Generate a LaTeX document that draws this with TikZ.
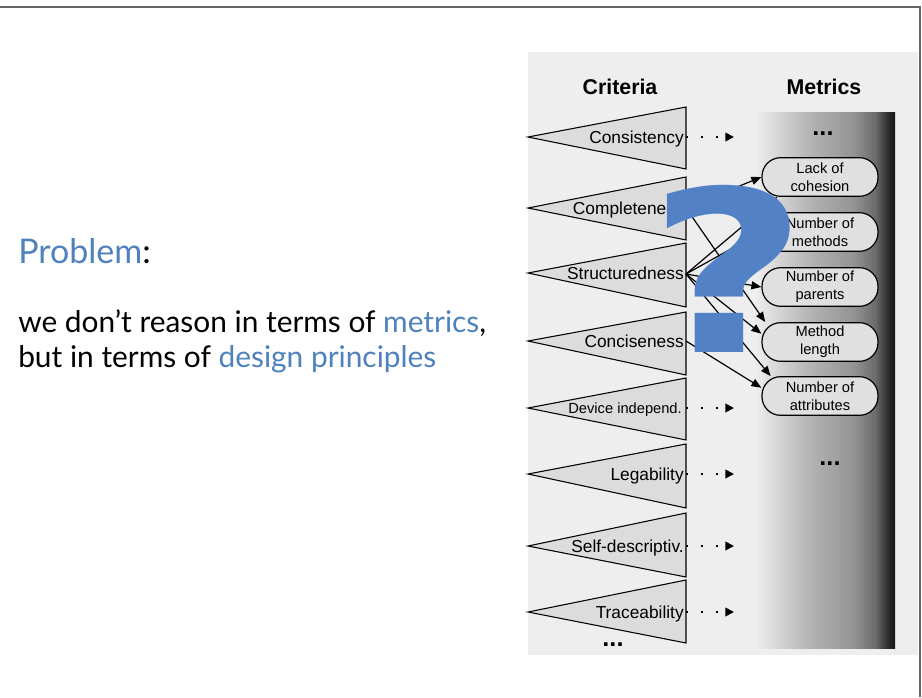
\documentclass[tikz,border=0pt]{standalone}
\usepackage{fontspec}
\setmainfont{Liberation Sans}
\newfontfamily\slidefont{Lato}
\newfontfamily\qfont{DejaVu Sans}
\usetikzlibrary{arrows.meta}
\definecolor{slideblue}{HTML}{4F81BD}
\definecolor{qblue}{HTML}{5282C5}
\definecolor{panelbg}{HTML}{EEEEEE}
\definecolor{trifill}{HTML}{DCDCDC}
\definecolor{boxfill}{HTML}{E0E0E0}
\definecolor{framegray}{HTML}{666666}
\colorlet{shA}{black!16}
\colorlet{shB}{black!30}
\colorlet{shC}{black!42}
\colorlet{shD}{black!58}
\colorlet{shE}{black!80}
\colorlet{shF}{black!92}
\pgfdeclarehorizontalshading{metricshade}{100bp}{color(0bp)=(panelbg); color(25bp)=(panelbg); color(33bp)=(shA); color(45bp)=(shB); color(60bp)=(shC); color(68bp)=(shD); color(72bp)=(shE); color(75bp)=(shF); color(100bp)=(shF)}
\tikzset{
  tri/.style={draw=black, line width=0.8pt, fill=trifill, line join=miter},
  clabel/.style={font=\fontsize{13}{15}\selectfont, inner sep=0pt, anchor=base east},
  mbox/.style={draw=black, line width=0.9pt, fill=boxfill, rounded corners=14pt,
    minimum width=87pt, minimum height=29pt, inner sep=0pt, align=center,
    font=\fontsize{11}{13.5}\selectfont},
  dotarrow/.style={draw=black, line width=1.3pt, dash pattern=on 1.3pt off 10pt,
    -{Triangle[length=6.5pt,width=6.5pt]}},
  conn/.style={draw=black, line width=0.9pt, -{Triangle[length=7.5pt,width=6pt]}},
  dotsnode/.style={font=\bfseries\fontsize{19}{19}\selectfont, inner sep=0pt},
  head/.style={font=\bfseries\fontsize{16}{18}\selectfont, inner sep=0pt},
  slidetext/.style={font=\slidefont\fontsize{22.4}{26}\selectfont, inner sep=0pt, anchor=base west},
  qmark/.style={font=\qfont\bfseries\fontsize{169}{169}\selectfont, text=qblue, inner sep=0pt, anchor=base}
}
\begin{document}
\begin{tikzpicture}[x=0.75pt, y=-0.75pt]
\useasboundingbox (0,0) rectangle (922,697);
\fill[white] (0,0) rectangle (922,697);
% slide frame
\draw[framegray, line width=1.1pt] (0,7) -- (920,7) -- (920,697);
% scanned panel
\fill[panelbg] (528,52) rectangle (918,655);
% metrics gradient
\fill[shading=metricshade] (755,112) rectangle (895,648);
% headings
\node[head] (hcrit) at (620,87) {Criteria};
\node[head] (hmet) at (824,87) {Metrics};
% triangles
\draw[tri] (528,137) -- (686,107) -- (686,169) -- cycle;
\draw[tri] (528,208) -- (686,177) -- (686,240) -- cycle;
\draw[tri] (528,273) -- (686,243) -- (686,307) -- cycle;
\draw[tri] (528,341) -- (686,312) -- (686,375) -- cycle;
\draw[tri] (528,408) -- (686,378) -- (686,440) -- cycle;
\draw[tri] (528,474) -- (686,444) -- (686,508) -- cycle;
\draw[tri] (528,546) -- (686,513) -- (686,577) -- cycle;
\draw[tri] (528,612) -- (686,580) -- (686,643) -- cycle;
\coordinate (c1) at (686,137);
\coordinate (c2) at (686,208);
\coordinate (c3) at (686,274);
\coordinate (c4) at (686,341);
\coordinate (c5) at (686,408);
\coordinate (c6) at (686,474);
\coordinate (c7) at (686,546);
\coordinate (c8) at (686,612);
% criteria labels
\node[clabel] (t1) at (684,143) {Consistency};
\node[clabel] (t2) at (684,214) {Completeness};
\node[clabel] (t3) at (684,279) {Structuredness};
\node[clabel] (t4) at (684,347) {Conciseness};
\node[clabel, font=\fontsize{11}{13}\selectfont] (t5) at (682,413) {Device independ.};
\node[clabel] (t6) at (684,480) {Legability};
\node[clabel] (t7) at (684,552) {Self-descriptiv.};
\node[clabel] (t8) at (684,618) {Traceability};
\node[dotsnode] (dcrit) at (613,645) {...};
% dotted arrows
\coordinate (e1) at (734,137);
\coordinate (e5) at (734,408);
\coordinate (e6) at (734,474);
\coordinate (e7) at (734,546);
\coordinate (e8) at (734,612);
\draw[dotarrow] (c1) -- (e1);
\draw[dotarrow] (c5) -- (e5);
\draw[dotarrow] (c6) -- (e6);
\draw[dotarrow] (c7) -- (e7);
\draw[dotarrow] (c8) -- (e8);
% metrics
\node[dotsnode] (dm1) at (823,134) {...};
\node[dotsnode] (dm2) at (830,464) {...};
\node[mbox] (lc) at (820,177) {Lack of\\cohesion};
\node[mbox] (nm) at (820,232) {Number of\\methods};
\node[mbox] (np) at (820,287) {Number of\\parents};
\node[mbox] (ml) at (820,342) {Method\\length};
\node[mbox] (na) at (820,396) {Number of\\attributes};
% connectors
\draw[conn] (c2) -- (lc.west);
\draw[conn] (c3) -- (lc.205);
\draw[conn] (c3) -- (nm.west);
\draw[conn] (c3) -- (np.west);
\draw[conn] (c2) -- (ml.160);
\draw[conn] (c3) -- (ml.172);
\draw[conn] (c3) -- (na.158);
\draw[conn] (c4) -- (na.172);
% question mark
\node[qmark] (q) at (728,352) {\scalebox{1.22}[1]{?}};
% slide text
\node[slidetext, font=\slidefont\fontsize{25.5}{30}\selectfont] (prob) at (18,263) {\textcolor{slideblue}{Problem}:};
\node[slidetext] (l1) at (18,332) {we don’t reason in terms of \textcolor{slideblue}{metrics},};
\node[slidetext] (l2) at (18,367) {but in terms of \textcolor{slideblue}{design principles}};
\end{tikzpicture}
\end{document}
